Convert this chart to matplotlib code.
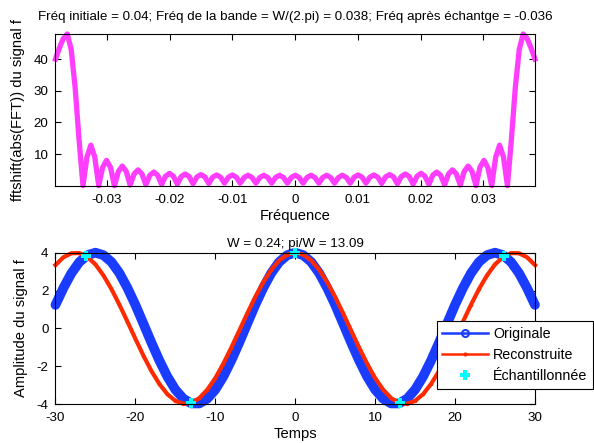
import numpy as np
import matplotlib
matplotlib.use("Agg")
import matplotlib.pyplot as plt
from matplotlib.lines import Line2D
from matplotlib.ticker import FuncFormatter

plt.rcParams['font.family'] = ['Liberation Sans', 'DejaVu Sans']
plt.rcParams['font.size'] = 9.6
plt.rcParams['axes.titlesize'] = 9.6
plt.rcParams['axes.labelsize'] = 10.6
plt.rcParams['legend.fontsize'] = 10.3
plt.rcParams['axes.unicode_minus'] = False

# spectre
freq = np.linspace(-0.0382, 0.0382, 123)
mag = [40.0, 43.5, 46.5, 47.9, 43.0, 31.0, 14.5, 0.0, 9.0, 12.8, 9.0, 0.0,
       5.8, 8.0, 5.8, 0.0, 4.5, 6.2, 4.5, 0.2, 3.7, 5.0, 3.7, 0.3, 3.3, 4.3,
       3.3, 0.4, 3.0, 3.9, 3.0, 0.5, 2.9, 3.7, 2.9, 0.6, 2.8, 3.5, 2.8, 0.7,
       2.7, 3.4, 2.7, 0.8, 2.7, 3.4, 2.7, 0.8, 2.6, 3.3, 2.6, 0.8, 2.6, 3.3,
       2.6, 0.8, 2.6, 3.3, 2.6, 0.8, 2.6,
       3.3,
       2.6, 0.8, 2.6, 3.3, 2.6, 0.8, 2.6, 3.3, 2.6, 0.8, 2.6, 3.3, 2.6, 0.8,
       2.7, 3.4, 2.7, 0.8, 2.7, 3.4, 2.7, 0.7, 2.8, 3.5, 2.8, 0.6, 2.9, 3.7,
       2.9, 0.5, 3.0, 3.9, 3.0, 0.4, 3.3, 4.3, 3.3, 0.3, 3.7, 5.0, 3.7, 0.2,
       4.5, 6.2, 4.5, 0.0, 5.8, 8.0, 5.8, 0.0, 9.0, 12.8, 9.0, 0.0, 14.5,
       31.0, 43.0, 47.9, 46.5, 43.5, 40.0]

# signaux temporels
temps = np.arange(-30, 31)
originale = [1.24, 2.14, 2.92, 3.51, 3.87, 4.00, 3.87, 3.51, 2.92, 2.14, 1.24,
             0.25, -0.75, -1.70, -2.55, -3.24, -3.72, -3.97, -3.97, -3.72,
             -3.24, -2.55, -1.70, -0.75, 0.25, 1.24, 2.14, 2.92, 3.51, 3.87,
             4.00,
             3.87, 3.51, 2.92, 2.14, 1.24, 0.25, -0.75, -1.70, -2.55, -3.24,
             -3.72, -3.97, -3.97, -3.72, -3.24, -2.55, -1.70, -0.75, 0.25,
             1.24, 2.14, 2.92, 3.51, 3.87, 4.00, 3.87, 3.51, 2.92, 2.14, 1.24]
reconstruite = [3.35, 3.76, 3.97, 3.98, 3.77, 3.38, 2.80, 2.08, 1.25, 0.36,
                -0.55, -1.44, -2.25, -2.94, -3.48, -3.83, -3.99, -3.94, -3.69,
                -3.24, -2.63, -1.87, -1.02, -0.12, 0.79, 1.66, 2.44, 3.10,
                3.59, 3.90,
                4.00,
                3.90, 3.59, 3.10, 2.44, 1.66, 0.79, -0.12, -1.02, -1.87, -2.63,
                -3.24, -3.69, -3.94, -3.99, -3.83, -3.48, -2.94, -2.25, -1.44,
                -0.55, 0.36, 1.25, 2.08, 2.80, 3.38, 3.77, 3.98, 3.97, 3.76,
                3.35]
t_ech = [-26.18, -13.09, 0.0, 13.09, 26.18]
y_ech = [3.83, -3.96, 4.00, -3.96, 3.83]

titre_haut = "Fréq initiale = 0.04; Fréq de la bande = W/(2.pi) = 0.038; Fréq après échantge = -0.036"
titre_bas = "W = 0.24; pi/W = 13.09"

c_mag = '#ff3dff'
c_bleu = '#1a3cff'
c_rouge = '#ff2a00'
c_cyan = '#00ffff'


def style_axes(ax):
    for s in ax.spines.values():
        s.set_linewidth(0.8)
    ax.tick_params(direction='in', top=True, right=True, length=4,
                   width=0.8)
    ax.tick_params(axis='x', pad=6)
    ax.tick_params(axis='y', pad=5)


fig = plt.figure(figsize=(5.94, 4.43), dpi=100)

ax1 = fig.add_axes([0.0934, 0.5808, 0.8072, 0.3425])
ax1.plot(freq, mag, color=c_mag, lw=3.8, clip_on=False)
ax1.set_xlim(-0.0382, 0.0382)
ax1.set_ylim(0, max(mag))
ax1.set_xticks([-0.03, -0.02, -0.01, 0, 0.01, 0.02, 0.03])
ax1.xaxis.set_major_formatter(FuncFormatter(lambda v, p: '%g' % round(v, 3)))
ax1.set_yticks([10, 20, 30, 40])
ax1.set_xlabel("Fréquence", labelpad=2)
ax1.set_ylabel("fftshift(abs(FFT)) du signal f", labelpad=6)
ax1.set_title(titre_haut, pad=10)
style_axes(ax1)

ax2 = fig.add_axes([0.0934, 0.0880, 0.8072, 0.3416])
ax2.plot(temps, originale, color=c_bleu, lw=7.0, solid_capstyle='round',
         solid_joinstyle='round', clip_on=False)
ax2.plot(temps, reconstruite, color=c_rouge, lw=3.0, marker='.', ms=3,
         clip_on=False)
ax2.plot(t_ech, y_ech, ls='none', marker='P', ms=7, mew=0, color=c_cyan,
         clip_on=False)
ax2.set_xlim(-30, 30)
ax2.set_ylim(-4, 4)
ax2.set_xticks(range(-30, 31, 10))
ax2.set_yticks([-4, -2, 0, 2, 4])
ax2.set_xlabel("Temps", labelpad=2)
ax2.set_ylabel("Amplitude du signal f", labelpad=6)
ax2.set_title(titre_bas, pad=4)
style_axes(ax2)

poignees = [
    Line2D([], [], color=c_bleu, lw=1.8, marker='o', ms=5, mfc='none', mew=1.5),
    Line2D([], [], color=c_rouge, lw=1.8, marker='.', ms=4),
    Line2D([], [], ls='none', color=c_cyan, marker='P', ms=7, mew=0),
]
leg = ax2.legend(poignees, ["Originale", "Reconstruite", "Échantillonnée"],
                 loc='upper left', bbox_to_anchor=(0.795, 0.549),
                 borderaxespad=0, fancybox=False, framealpha=1,
                 edgecolor='black', handlelength=3.2, handletextpad=0.35,
                 labelspacing=0.5, borderpad=0.4, numpoints=1)
leg.get_frame().set_linewidth(0.8)
leg.set_clip_on(False)

fig.savefig("out.png", dpi=100)
